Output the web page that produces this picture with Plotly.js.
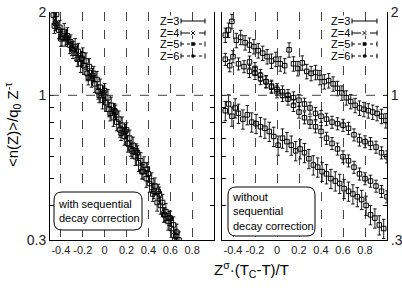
<!DOCTYPE html>
<html><head><meta charset="utf-8">
<script src="https://cdn.plot.ly/plotly-3.0.1.min.js"></script>
<style>html,body{margin:0;padding:0;background:#fff}#chart{width:402px;height:292px}</style>
</head><body><div id="chart"></div>
<script>
// ---------- data ----------
const seriesNames = ['Z=3', 'Z=4', 'Z=5', 'Z=6'];

// Left panel: with sequential decay correction
const leftX3 = [-0.47,-0.42,-0.37,-0.32,-0.27,-0.22,-0.17,-0.12,-0.07,-0.02,0.03,0.08,0.13,0.18,0.23,0.28,0.33,0.38,0.43,0.48,0.53,0.58,0.63,0.68];
const leftY3 = [1.95,1.72,1.70,1.52,1.50,1.30,1.33,1.15,1.14,0.96,0.98,0.83,0.82,0.71,0.70,0.60,0.58,0.50,0.49,0.41,0.41,0.35,0.34,0.30];
const leftX4 = [-0.45,-0.40,-0.35,-0.30,-0.25,-0.20,-0.15,-0.10,-0.05,0.00,0.05,0.10,0.15,0.20,0.25,0.30,0.35,0.40,0.45,0.50,0.55,0.60,0.65];
const leftY4 = [1.82,1.60,1.62,1.48,1.35,1.40,1.16,1.20,1.00,1.04,0.86,0.87,0.73,0.75,0.63,0.62,0.53,0.52,0.45,0.44,0.37,0.36,0.31];
const leftX5 = [-0.46,-0.41,-0.36,-0.31,-0.26,-0.21,-0.16,-0.11,-0.06,-0.01,0.04,0.09,0.14,0.19,0.24,0.29,0.34,0.39,0.44,0.49,0.54,0.59,0.64];
const leftY5 = [1.78,1.76,1.60,1.56,1.42,1.36,1.20,1.18,1.03,1.02,0.89,0.88,0.75,0.74,0.64,0.63,0.53,0.54,0.44,0.45,0.37,0.36,0.30];
const leftX6 = [-0.44,-0.39,-0.34,-0.29,-0.24,-0.19,-0.14,-0.09,-0.04,0.01,0.06,0.11,0.16,0.21,0.26,0.31,0.36,0.41,0.46,0.51,0.56,0.61,0.66];
const leftY6 = [1.96,1.62,1.64,1.46,1.44,1.28,1.27,1.10,1.07,0.94,0.92,0.80,0.78,0.67,0.66,0.57,0.56,0.48,0.47,0.40,0.38,0.33,0.32];

// Right panel: without sequential decay correction
const rightX3 = [-0.47,-0.44,-0.41,-0.37,-0.33,-0.29,-0.25,-0.21,-0.17,-0.13,-0.09,-0.05,-0.01,0.03,0.07,0.11,0.15,0.19,0.23,0.27,0.31,0.35,0.39,0.43,0.47,0.51,0.55,0.59,0.63,0.67,0.71,0.75,0.79,0.83,0.87,0.91,0.95,0.99];
const rightY3 = [1.65,1.72,1.85,1.58,1.62,1.55,1.52,1.50,1.45,1.42,1.38,1.33,1.35,1.30,1.28,1.46,1.30,1.25,1.31,1.22,1.20,1.21,1.16,1.12,1.13,1.10,1.06,1.02,0.98,0.95,0.92,0.90,0.89,0.88,0.87,0.86,0.84,0.81];
const rightX4 = [-0.47,-0.43,-0.40,-0.35,-0.30,-0.25,-0.20,-0.15,-0.10,-0.05,0.00,0.05,0.10,0.15,0.20,0.25,0.30,0.35,0.40,0.45,0.50,0.55,0.60,0.65,0.70,0.75,0.80,0.85,0.90,0.95,1.00];
const rightY4 = [1.35,1.28,1.38,1.30,1.27,1.22,1.20,1.15,1.12,1.08,1.05,1.03,1.00,0.98,0.96,0.93,0.90,0.86,0.84,0.82,0.80,0.79,0.78,0.76,0.72,0.69,0.68,0.67,0.65,0.62,0.60];
const rightX5 = [-0.25,-0.20,-0.15,-0.10,-0.05,0.00,0.05,0.10,0.15,0.20,0.25,0.30,0.35,0.40,0.45,0.50,0.55,0.60,0.65,0.70,0.75,0.80,0.85,0.90,0.95,1.00];
const rightY5 = [1.32,1.25,1.18,1.12,1.07,1.03,1.00,0.97,0.92,0.87,0.83,0.80,0.77,0.74,0.70,0.67,0.64,0.60,0.58,0.55,0.52,0.50,0.49,0.47,0.45,0.43];
const rightX6 = [-0.47,-0.44,-0.41,-0.38,-0.35,-0.31,-0.27,-0.23,-0.19,-0.15,-0.11,-0.07,-0.03,0.01,0.05,0.09,0.13,0.17,0.21,0.25,0.29,0.33,0.37,0.41,0.45,0.49,0.53,0.57,0.61,0.65,0.69,0.73,0.77,0.81,0.85,0.89,0.93,0.97];
const rightY6 = [0.88,0.93,0.84,0.90,0.86,0.82,0.85,0.80,0.79,0.77,0.76,0.74,0.71,0.66,0.70,0.68,0.66,0.63,0.64,0.62,0.59,0.56,0.55,0.53,0.52,0.50,0.49,0.48,0.46,0.45,0.44,0.43,0.42,0.40,0.37,0.36,0.34,0.33];

const errPctLeft = [7, 6, 6, 7];
const errPctRight = [6, 5, 5, 8];

const xTickVals = [-0.4, -0.2, 0, 0.2, 0.4, 0.6, 0.8];
const xTickText = ['-0.4', '-0.2', '0', '0.2', '0.4', '0.6', '0.8'];
const yTickVals = [0.3, 0.4, 0.5, 0.6, 0.7, 0.8, 0.9, 1, 2];
const yTickTextLeft = ['0.3', '', '', '', '', '', '', '1', '2'];
const yTickTextRight = ['.3', '', '', '', '', '', '', '1', '2'];

// ---------- build ----------
const FONT = '"Liberation Sans Narrow", "Arial Narrow", "Liberation Sans", Arial, sans-serif';
const leftSets = [[leftX3, leftY3], [leftX4, leftY4], [leftX5, leftY5], [leftX6, leftY6]];
const rightSets = [[rightX3, rightY3], [rightX4, rightY4], [rightX5, rightY5], [rightX6, rightY6]];

function mk(xs, ys, name, xa, ya, pct) {
  return {
    type: 'scatter', mode: 'markers', name: name, x: xs, y: ys, xaxis: xa, yaxis: ya,
    marker: { symbol: 'square-open', size: 4.5, color: '#000', line: { width: 1, color: '#000' } },
    error_y: { type: 'percent', value: pct, color: '#000', thickness: 0.9, width: 1.8 },
    hoverinfo: 'skip'
  };
}
const data = [];
leftSets.forEach((s, i) => data.push(mk(s[0], s[1], seriesNames[i], 'x', 'y', errPctLeft[i])));
rightSets.forEach((s, i) => data.push(mk(s[0], s[1], seriesNames[i], 'x2', 'y2', errPctRight[i])));

// pixel -> paper helpers (plot area: x 50..387, y 12..240)
const PX = p => (p - 50) / 337;
const PY = p => (240 - p) / 228;

function xAxis(domain, anchor) {
  return {
    domain: domain, anchor: anchor, range: [-0.5, 1.0],
    tickvals: xTickVals, ticktext: xTickText, ticks: '', tickangle: 0, automargin: false,
    showgrid: true, griddash: 'dash', gridcolor: '#444', gridwidth: 1,
    showline: true, linecolor: '#000', linewidth: 1, zeroline: false,
    tickfont: { family: FONT, size: 11, color: '#222' }
  };
}
function yAxis(anchor, side, text) {
  return {
    anchor: anchor, side: side, type: 'log', range: [Math.log10(0.3), Math.log10(2)],
    tickvals: yTickVals, ticktext: text, ticks: 'inside', ticklen: 4, tickcolor: '#000', automargin: false,
    showgrid: false, showline: true, mirror: 'ticks', linecolor: '#000', linewidth: 1, zeroline: false,
    tickfont: { family: FONT, size: 14, color: '#222' }
  };
}

const shapes = [];
const annotations = [];

// y = 1 reference lines
[['x', 'y'], ['x2', 'y2']].forEach(([xa, ya]) => {
  shapes.push({ type: 'line', xref: xa + ' domain', x0: 0, x1: 1, yref: ya, y0: 1, y1: 1,
    line: { color: '#444', width: 1, dash: 'dash' } });
});

// legends (drawn in each panel)
const legendStyles = [
  { dash: 'solid', mark: 'none' },
  { dash: 'dash', mark: 'x' },
  { dash: 'dot', mark: 'square' },
  { dash: 'dot', mark: 'circle' }
];
const legendRows = [21, 33, 44, 56];
[[181, 205], [352, 377]].forEach(([tx, ex]) => {
  legendRows.forEach((py, i) => {
    const st = legendStyles[i];
    annotations.push({ xref: 'paper', yref: 'paper', x: PX(tx - 1), y: PY(py), xanchor: 'right', yanchor: 'middle',
      text: seriesNames[i], showarrow: false, borderpad: 0, height: 10, bgcolor: '#fff',
      font: { family: FONT, size: 11, color: '#000' } });
    shapes.push({ type: 'line', xref: 'paper', yref: 'paper', x0: PX(tx), x1: PX(ex), y0: PY(py), y1: PY(py),
      line: { color: '#000', width: 1, dash: st.dash } });
    [tx, ex].forEach(cx => shapes.push({ type: 'line', xref: 'paper', yref: 'paper', x0: PX(cx), x1: PX(cx),
      y0: PY(py - 2.5), y1: PY(py + 2.5), line: { color: '#000', width: 1 } }));
    const mx = (tx + ex) / 2;
    if (st.mark === 'square') {
      shapes.push({ type: 'rect', xref: 'paper', yref: 'paper', x0: PX(mx - 1.8), x1: PX(mx + 1.8),
        y0: PY(py - 1.8), y1: PY(py + 1.8), fillcolor: '#000', line: { width: 0 } });
    } else if (st.mark === 'circle') {
      shapes.push({ type: 'circle', xref: 'paper', yref: 'paper', x0: PX(mx - 1.8), x1: PX(mx + 1.8),
        y0: PY(py - 1.8), y1: PY(py + 1.8), fillcolor: '#000', line: { width: 0 } });
    } else if (st.mark === 'x') {
      shapes.push({ type: 'rect', xref: 'paper', yref: 'paper', x0: PX(mx - 2.5), x1: PX(mx + 2.5),
        y0: PY(py - 2.5), y1: PY(py + 2.5), fillcolor: '#fff', line: { width: 0 } });
      shapes.push({ type: 'line', xref: 'paper', yref: 'paper', x0: PX(mx - 1.8), x1: PX(mx + 1.8),
        y0: PY(py - 1.8), y1: PY(py + 1.8), line: { color: '#000', width: 1 } });
      shapes.push({ type: 'line', xref: 'paper', yref: 'paper', x0: PX(mx - 1.8), x1: PX(mx + 1.8),
        y0: PY(py + 1.8), y1: PY(py - 1.8), line: { color: '#000', width: 1 } });
    }
  });
});

// rounded boxes
function rrect(x0, y0, x1, y1, r) {
  const X = PX, Y = PY;
  return `M${X(x0 + r)},${Y(y0)} L${X(x1 - r)},${Y(y0)} Q${X(x1)},${Y(y0)} ${X(x1)},${Y(y0 + r)} ` +
    `L${X(x1)},${Y(y1 - r)} Q${X(x1)},${Y(y1)} ${X(x1 - r)},${Y(y1)} L${X(x0 + r)},${Y(y1)} ` +
    `Q${X(x0)},${Y(y1)} ${X(x0)},${Y(y1 - r)} L${X(x0)},${Y(y0 + r)} Q${X(x0)},${Y(y0)} ${X(x0 + r)},${Y(y0)} Z`;
}
shapes.push({ type: 'path', xref: 'paper', yref: 'paper', path: rrect(54, 192, 142, 230, 8),
  fillcolor: '#fff', line: { color: '#000', width: 1 } });
shapes.push({ type: 'path', xref: 'paper', yref: 'paper', path: rrect(228, 187, 315, 236, 8),
  fillcolor: '#fff', line: { color: '#000', width: 1 } });
annotations.push({ xref: 'paper', yref: 'paper', x: PX(57), y: PY(211), xanchor: 'left', yanchor: 'middle',
  align: 'left', showarrow: false, borderpad: 0, text: 'with sequential<br>decay correction',
  font: { family: FONT, size: 11, color: '#000' } });
annotations.push({ xref: 'paper', yref: 'paper', x: PX(231), y: PY(211), xanchor: 'left', yanchor: 'middle',
  align: 'left', showarrow: false, borderpad: 0, text: 'without<br>sequential<br>decay correction',
  font: { family: FONT, size: 11, color: '#000' } });

// axis titles
annotations.push({ xref: 'paper', yref: 'paper', x: PX(251), y: PY(269), xanchor: 'center', yanchor: 'middle',
  showarrow: false, text: 'Z<sup>σ</sup>·(T<sub>C</sub>-T)/T', font: { family: FONT, size: 15, color: '#000' } });
annotations.push({ xref: 'paper', yref: 'paper', x: PX(12), y: PY(125), xanchor: 'center', yanchor: 'middle',
  textangle: -90, showarrow: false, text: '&lt;n(Z)&gt;/q<sub>0</sub> Z<sup>-τ</sup>',
  font: { family: FONT, size: 15, color: '#000' } });

const layout = {
  width: 402, height: 292,
  margin: { l: 50, r: 15, t: 12, b: 52 },
  paper_bgcolor: '#fff', plot_bgcolor: '#fff',
  showlegend: false,
  font: { family: FONT, color: '#000' },
  xaxis: xAxis([0, PX(214)], 'y'),
  yaxis: yAxis('x', 'left', yTickTextLeft),
  xaxis2: xAxis([PX(222), 1], 'y2'),
  yaxis2: yAxis('x2', 'right', yTickTextRight),
  shapes: shapes,
  annotations: annotations
};

Plotly.newPlot('chart', data, layout, { staticPlot: true, displayModeBar: false });
</script>
</body></html>
